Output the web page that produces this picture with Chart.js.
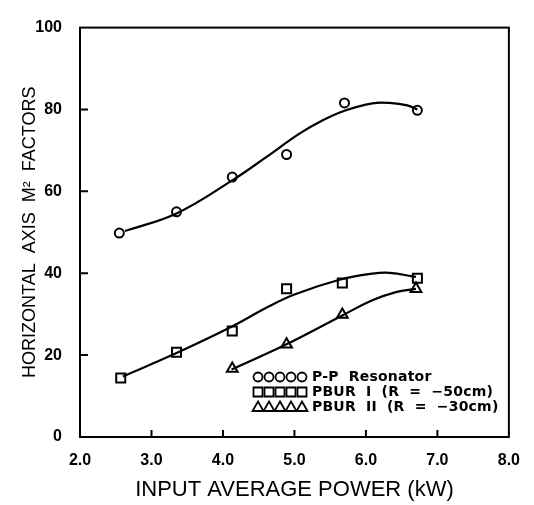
<!DOCTYPE html>
<html>
<head>
<meta charset="utf-8">
<script src="https://cdn.jsdelivr.net/npm/chart.js@4"></script>
<style>
  html, body { margin: 0; padding: 0; background: #fff; }
  #wrap { width: 534px; height: 505px; }
</style>
</head>
<body>
<div id="wrap"><canvas id="chart" width="534" height="505"></canvas></div>
<script>
// measured points
const ppX = [2.55, 3.35, 4.13, 4.89, 5.70, 6.72]
const ppY = [49.8, 55.0, 63.5, 69.0, 81.6, 79.8]
const pb1X = [2.57, 3.35, 4.13, 4.89, 5.67, 6.72]
const pb1Y = [14.4, 20.7, 25.9, 36.2, 37.6, 38.8]
const pb2X = [4.13, 4.89, 5.67, 6.70]
const pb2Y = [16.7, 22.6, 29.9, 36.2]

// fitted curves
const ppFitX = [2.63, 3.35, 4.14, 4.60, 5.07, 5.39, 5.70, 6.09, 6.33, 6.58, 6.72]
const ppFitY = [50.3, 54.6, 62.8, 68.3, 74.1, 77.3, 79.7, 81.5, 81.6, 81.0, 80.0]
const pb1FitX = [2.60, 3.35, 4.14, 4.60, 5.00, 5.63, 6.09, 6.33, 6.70]
const pb1FitY = [14.8, 20.5, 27.1, 31.5, 34.8, 38.4, 39.9, 40.1, 39.1]
const pb2FitX = [4.12, 4.86, 5.67, 6.09, 6.42, 6.70]
const pb2FitY = [16.5, 22.4, 29.7, 33.4, 35.4, 36.2]

const xTicks = [2, 3, 4, 5, 6, 7, 8]
const yTicks = [0, 20, 40, 60, 80, 100]
const seriesNames = ['P-P  Resonator', 'PBUR  I  (R  =  \u221250cm)', 'PBUR  II  (R  =  \u221230cm)']
const seriesStyles = ['circle', 'rect', 'triangle']

const pts = (xs, ys) => xs.map((x, i) => ({ x, y: ys[i] }))

const markerSet = (label, xs, ys, style, r) => ({
  label, data: pts(xs, ys), showLine: false, pointStyle: style, pointRadius: r,
  pointBorderWidth: 2, pointBorderColor: '#000', pointBackgroundColor: 'rgba(0,0,0,0)',
})
const fitSet = (xs, ys) => ({
  data: pts(xs, ys), showLine: true, pointRadius: 0, borderColor: '#000', borderWidth: 2.2,
  tension: 0.4, fill: false,
})

function marker(ctx, style, x, y) {
  ctx.beginPath()
  if (style === 'circle') {
    ctx.arc(x, y, 4.5, 0, Math.PI * 2)
  } else if (style === 'rect') {
    ctx.rect(x - 4.5, y - 4.5, 9, 9)
  } else {
    ctx.moveTo(x, y - 5.5)
    ctx.lineTo(x + 5.5, y + 4)
    ctx.lineTo(x - 5.5, y + 4)
    ctx.closePath()
  }
  ctx.stroke()
}

const framePlugin = {
  id: 'frame',
  afterDraw(chart) {
    const { ctx, chartArea: a, scales } = chart
    ctx.save()
    ctx.strokeStyle = '#000'
    ctx.lineWidth = 2
    ctx.strokeRect(a.left, a.top, a.right - a.left, a.bottom - a.top)
    ctx.beginPath()
    xTicks.slice(1, -1).forEach((v) => {
      const px = scales.x.getPixelForValue(v)
      ctx.moveTo(px, a.bottom)
      ctx.lineTo(px, a.bottom - 7)
    })
    yTicks.slice(1, -1).forEach((v) => {
      const py = scales.y.getPixelForValue(v)
      ctx.moveTo(a.left, py)
      ctx.lineTo(a.left + 8, py)
    })
    ctx.stroke()

    // legend, lower right
    ctx.lineWidth = 1.8
    ctx.fillStyle = '#000'
    ctx.font = 'bold 14px "DejaVu Sans"'
    ctx.letterSpacing = '0.2px'
    ctx.textBaseline = 'middle'
    const rows = [377, 392, 407]
    seriesNames.forEach((name, i) => {
      for (let k = 0; k < 5; k++) marker(ctx, seriesStyles[i], 258 + k * 11, rows[i])
      ctx.fillText(name, 312, rows[i])
    })
    ctx.restore()
  },
}

new Chart(document.getElementById('chart'), {
  type: 'scatter',
  data: {
    datasets: [
      fitSet(ppFitX, ppFitY),
      fitSet(pb1FitX, pb1FitY),
      fitSet(pb2FitX, pb2FitY),
      markerSet(seriesNames[0], ppX, ppY, 'circle', 4.5),
      markerSet(seriesNames[1], pb1X, pb1Y, 'rect', 6.4),
      markerSet(seriesNames[2], pb2X, pb2Y, 'triangle', 6.2),
    ],
  },
  options: {
    responsive: false,
    animation: false,
    layout: { padding: { top: 12, right: 24, left: 0, bottom: 0 } },
    plugins: { legend: { display: false }, tooltip: { enabled: false } },
    scales: {
      x: {
        type: 'linear', min: 2, max: 8,
        afterFit: (s) => { s.height = 68 },
        afterBuildTicks: (s) => { s.ticks = xTicks.map((v) => ({ value: v })) },
        grid: { display: false, drawTicks: false },
        border: { display: false },
        ticks: { color: '#000', padding: 14, font: { family: 'Liberation Sans', weight: 'bold', size: 16 }, callback: (v) => v.toFixed(1) },
        title: { display: true, text: 'INPUT AVERAGE POWER (kW)', color: '#000', padding: { top: 0, bottom: 2 }, font: { family: 'Liberation Sans', size: 22 } },
      },
      y: {
        type: 'linear', min: 0, max: 100,
        afterFit: (s) => { s.width = 80 },
        afterBuildTicks: (s) => { s.ticks = yTicks.map((v) => ({ value: v })) },
        grid: { display: false, drawTicks: false },
        border: { display: false },
        ticks: { color: '#000', padding: 18, font: { family: 'Liberation Sans', weight: 'bold', size: 16 } },
        title: { display: true, text: 'HORIZONTAL  AXIS  M\u00B2  FACTORS', color: '#000', padding: { top: 19, bottom: 0 }, font: { family: 'Liberation Sans', size: 18 } },
      },
    },
  },
  plugins: [framePlugin],
})
</script>
</body>
</html>
